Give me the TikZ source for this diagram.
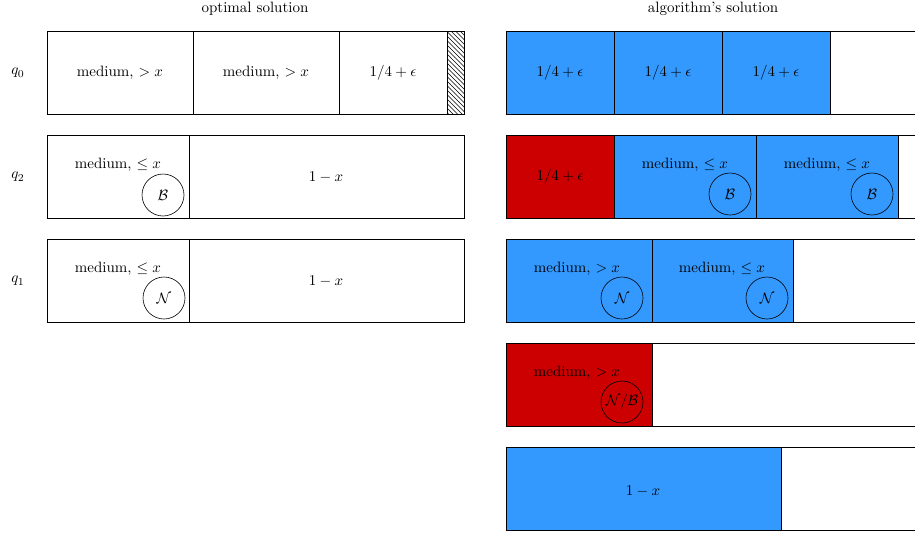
\documentclass[tikz,border=0pt]{standalone}
\usepackage{amsmath}
\usetikzlibrary{patterns}
\definecolor{algblue}{RGB}{51,153,255}
\definecolor{algred}{RGB}{204,0,0}
\tikzset{
 cell/.style={draw,semithick},
 tag/.style={circle,draw,minimum size=28pt,inner sep=0pt},
 lbl/.style={inner sep=1pt}
}
\begin{document}
\begin{tikzpicture}[x=0.6667pt,y=-0.6667pt]
 \useasboundingbox (0,0) rectangle (915,534);
 % titles and rows
 \node[lbl] (opt) at (255,9) {optimal solution};
 \node[lbl] (alg) at (713,9) {algorithm's solution};
 \node[lbl] (q0) at (18,73) {$q_0$};
 \node[lbl] (q2) at (18,177) {$q_2$};
 \node[lbl] (q1) at (18,281) {$q_1$};
 % optimal solution
 \draw[cell](47,31) rectangle (464,114);
 \draw[cell](193,31)--(193,114);
 \draw[cell](339,31)--(339,114);
 \draw[cell,pattern=north west lines](447,31) rectangle (464,114);
 \node[lbl] (o0a) at (120,73) {medium, $> x$};
 \node[lbl] (o0b) at (266,73) {medium, $> x$};
 \node[lbl] (o0c) at (393,73) {$1/4+\epsilon$};
 \draw[cell](47,135) rectangle (464,218);
 \draw[cell](189,135)--(189,218);
 \node[lbl] (o2a) at (118,165) {medium, $\le x$};
 \node[tag] (o2t) at (163,195) {$\mathcal{B}$};
 \node[lbl] (o2b) at (326,177) {$1-x$};
 \draw[cell](47,239) rectangle (464,322);
 \draw[cell](189,239)--(189,322);
 \node[lbl] (o1a) at (118,269) {medium, $\le x$};
 \node[tag] (o1t) at (164,298) {$\mathcal{N}$};
 \node[lbl] (o1b) at (326,281) {$1-x$};
 % algorithm's solution
 \draw[cell](506,31) rectangle (924,114);
 \draw[cell,fill=algblue](506,31) rectangle (614,114);
 \draw[cell,fill=algblue](614,31) rectangle (722,114);
 \draw[cell,fill=algblue](722,31) rectangle (830,114);
 \node[lbl] (a0a) at (560,73) {$1/4+\epsilon$};
 \node[lbl] (a0b) at (668,73) {$1/4+\epsilon$};
 \node[lbl] (a0c) at (776,73) {$1/4+\epsilon$};
 \draw[cell](506,135) rectangle (924,218);
 \draw[cell,fill=algred](506,135) rectangle (614,218);
 \draw[cell,fill=algblue](614,135) rectangle (756,218);
 \draw[cell,fill=algblue](756,135) rectangle (898,218);
 \node[lbl] (a1a) at (560,177) {$1/4+\epsilon$};
 \node[lbl] (a1b) at (685,165) {medium, $\le x$};
 \node[tag] (a1bt) at (730,194) {$\mathcal{B}$};
 \node[lbl] (a1c) at (827,165) {medium, $\le x$};
 \node[tag] (a1ct) at (872,194) {$\mathcal{B}$};
 \draw[cell](506,239) rectangle (924,322);
 \draw[cell,fill=algblue](506,239) rectangle (652,322);
 \draw[cell,fill=algblue](652,239) rectangle (793,322);
 \node[lbl] (a2a) at (577,269) {medium, $> x$};
 \node[tag] (a2at) at (622,298) {$\mathcal{N}$};
 \node[lbl] (a2b) at (722,269) {medium, $\le x$};
 \node[tag] (a2bt) at (767,298) {$\mathcal{N}$};
 \draw[cell](506,343) rectangle (924,426);
 \draw[cell,fill=algred](506,343) rectangle (652,426);
 \node[lbl] (a3a) at (577,373) {medium, $> x$};
 \node[tag] (a3t) at (622,402) {$\mathcal{N}/\mathcal{B}$};
 \draw[cell](506,447) rectangle (924,530);
 \draw[cell,fill=algblue](506,447) rectangle (781,530);
 \node[lbl] (a4a) at (643,491) {$1-x$};
\end{tikzpicture}
\end{document}
